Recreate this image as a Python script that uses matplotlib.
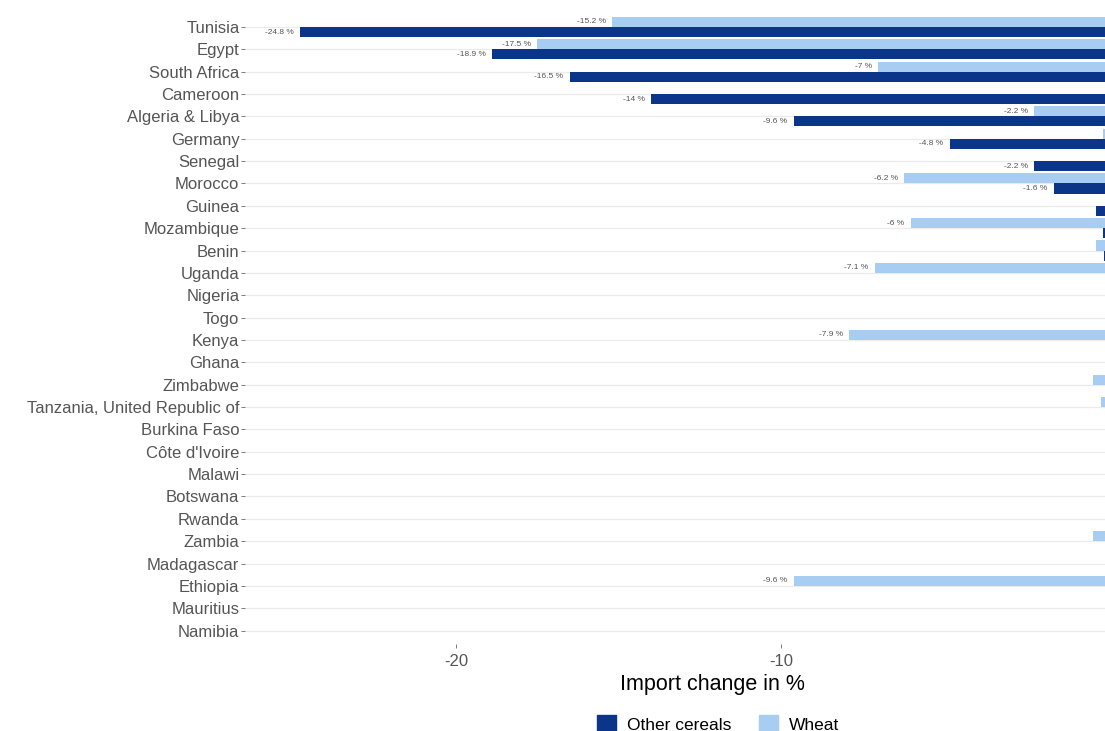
import matplotlib
matplotlib.use("Agg")
import matplotlib.pyplot as plt
import numpy as np
from matplotlib.patches import Patch

plt.rcParams["font.family"] = ["Liberation Sans", "DejaVu Sans"]

countries = [
    "Tunisia", "Egypt", "South Africa", "Cameroon", "Algeria & Libya", "Germany",
    "Senegal", "Morocco", "Guinea", "Mozambique", "Benin", "Uganda", "Nigeria",
    "Togo", "Kenya", "Ghana", "Zimbabwe", "Tanzania, United Republic of",
    "Burkina Faso", "Côte d'Ivoire", "Malawi", "Botswana", "Rwanda", "Zambia",
    "Madagascar", "Ethiopia", "Mauritius", "Namibia",
]
other_cereals = [
    -24.8, -18.9, -16.5, -14.0, -9.6, -4.8, -2.2, -1.6, -0.3, -0.1, -0.05, 0, 0,
    0, 0, 0, 0, 0, 0, 0, 0, 0, 0, 0, 0, 0, 0, 0,
]
wheat = [
    -15.2, -17.5, -7.0, 0, -2.2, -0.1, 0, -6.2, 0, -6.0, -0.3, -7.1, 0,
    0, -7.9, 0, -0.4, -0.15, 0, 0, 0, 0, 0, -0.4, 0, -9.6, 0, 0,
]

DARK = "#0a3589"
LIGHT = "#a8cdf3"
GREY = "#555555"


def fmt(v):
    return f"{v:g} %"


fig = plt.figure(figsize=(11.05, 7.31), dpi=100)
# panel runs past the right edge: the reference is cropped at x = 0
ax = fig.add_axes([245 / 1105, 87 / 731, 934 / 1105, 630.4 / 731])

y = np.arange(len(countries))
h = 0.45
ax.barh(y - h / 2, wheat, height=h, color=LIGHT, zorder=2)
ax.barh(y + h / 2, other_cereals, height=h, color=DARK, zorder=2)

for i, (o, w) in enumerate(zip(other_cereals, wheat)):
    if abs(w) >= 1:
        ax.text(w - 0.2, i - h / 2, fmt(w), ha="right", va="center",
                fontsize=6, color="#555555")
    if abs(o) >= 1:
        ax.text(o - 0.2, i + h / 2, fmt(o), ha="right", va="center",
                fontsize=6, color="#555555")

ax.set_xlim(-26.5, 2.25)
ax.set_ylim(len(countries) - 0.4, -0.6)
ax.set_yticks(y)
ax.set_yticklabels(countries)
ax.set_xticks([-20, -10, 0])
ax.set_xticklabels(["-20", "-10", ""])
ax.tick_params(axis="both", labelsize=12, labelcolor=GREY, color="#666666",
               length=3, width=0.6, pad=1)
ax.tick_params(axis="x", pad=4)

for s in ax.spines.values():
    s.set_visible(False)
ax.grid(axis="y", color="#ebebeb", linewidth=0.9, zorder=0)
ax.set_axisbelow(True)

ax.set_xlabel("Import change in %", fontsize=15.5, color="black", labelpad=4)

handles = [Patch(color=DARK, label="Other cereals"), Patch(color=LIGHT, label="Wheat")]
fig.legend(handles=handles, loc="center", ncol=2, frameon=False, fontsize=12.5,
           bbox_to_anchor=(718 / 1105, 1 - 724 / 731), handlelength=1.1,
           handleheight=1.1, columnspacing=1.6, handletextpad=0.6)

fig.savefig("out.png", dpi=100)
